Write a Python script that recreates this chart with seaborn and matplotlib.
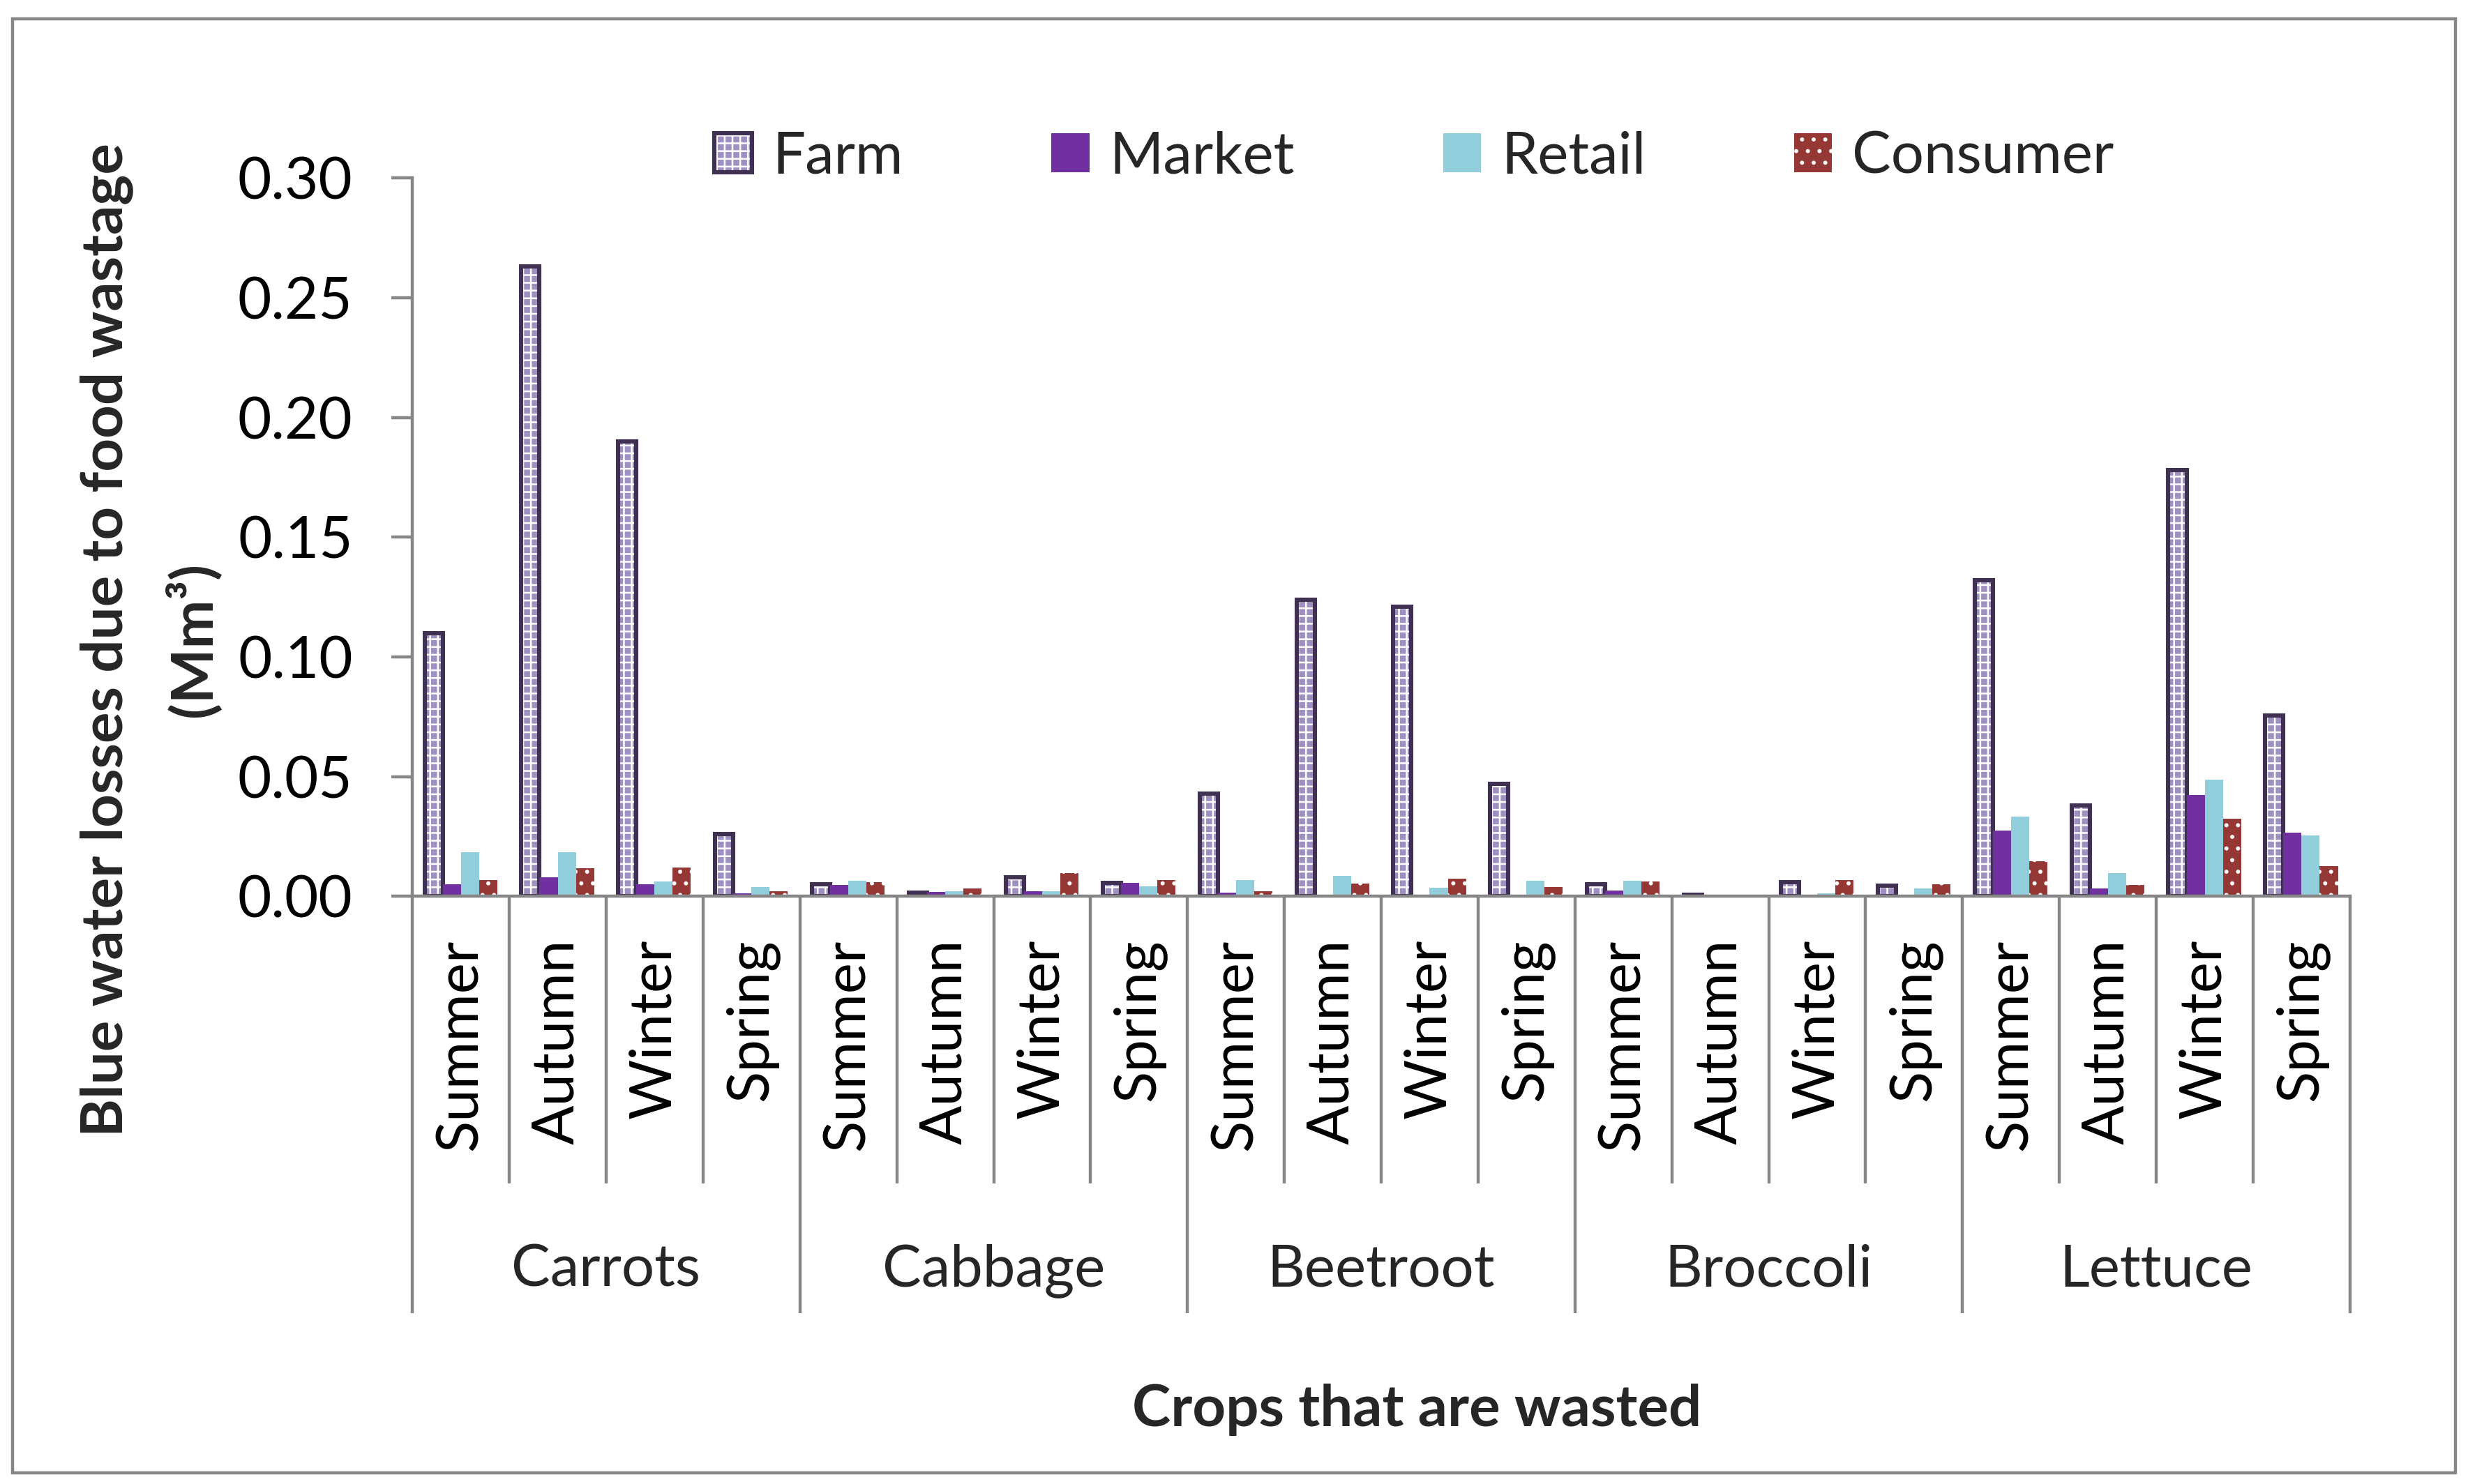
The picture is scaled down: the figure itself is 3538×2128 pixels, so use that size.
import pandas as pd
import matplotlib.pyplot as plt
import matplotlib.colors as mcolors
import matplotlib.transforms as mtransforms
from matplotlib.patches import Rectangle
from matplotlib.ticker import FormatStrFormatter, MultipleLocator
import seaborn as sns

# Data (Mm3)
crops = ['Carrots', 'Cabbage', 'Beetroot', 'Broccoli', 'Lettuce']
seasons = ['Summer', 'Autumn', 'Winter', 'Spring']
stages = ['Farm', 'Market', 'Retail', 'Consumer']

farm = [0.110, 0.263, 0.190, 0.026,
        0.005, 0.0016, 0.008, 0.0056,
        0.043, 0.124, 0.121, 0.047,
        0.005, 0.0006, 0.006, 0.0044,
        0.132, 0.038, 0.178, 0.0755]
market = [0.005, 0.008, 0.005, 0.0013,
          0.0047, 0.0018, 0.0022, 0.0056,
          0.0016, 0.0, 0.0, 0.0,
          0.0024, 0.0, 0.0008, 0.0,
          0.0276, 0.0034, 0.0424, 0.0265]
retail = [0.0184, 0.0184, 0.0063, 0.0038,
          0.0065, 0.002, 0.002, 0.0043,
          0.0067, 0.0084, 0.0035, 0.0064,
          0.0064, 0.0, 0.0012, 0.0032,
          0.0334, 0.0098, 0.0488, 0.0255]
consumer = [0.0069, 0.0116, 0.0119, 0.0022,
            0.006, 0.0034, 0.0098, 0.0067,
            0.0021, 0.0052, 0.0074, 0.0039,
            0.0061, 0.0, 0.0068, 0.005,
            0.0147, 0.0047, 0.0323, 0.0125]

# long-form table for seaborn
slots = [f'{c}|{s}' for c in crops for s in seasons]
rows = []
for stage, vals in zip(stages, [farm, market, retail, consumer]):
    for slot, v in zip(slots, vals):
        rows.append({'slot': slot, 'stage': stage, 'value': v})
df = pd.DataFrame(rows)

sns.set_style('white')
plt.rcParams['font.family'] = ['Lato', 'DejaVu Sans']
plt.rcParams['hatch.linewidth'] = 0.9

gray = '#868686'
fs = 30

fig = plt.figure(figsize=(17.69, 10.64), dpi=200)
ax = fig.add_axes([0.1671, 0.396, 0.7851, 0.484])

palette = {'Farm': '#9f90c2', 'Market': '#7030a0',
           'Retail': '#92cddc', 'Consumer': '#953735'}
sns.barplot(data=df, x='slot', y='value', hue='stage', order=slots,
            hue_order=stages, palette=palette, width=0.75, gap=0,
            saturation=1, legend=False, ax=ax)

# bar styling: hatches and outlines
for stage, cont in zip(stages, ax.containers):
    for p in cont.patches:
        if stage == 'Farm':
            p.set_hatch('+++')
            p.set_edgecolor('white')          # hatch colour
            p._edgecolor = mcolors.to_rgba('#403152')
            p.set_linewidth(2.2)
        elif stage == 'Consumer':
            p.set_hatch('..')
            p.set_edgecolor('white')
            p.set_linewidth(0)
        else:
            p.set_linewidth(0)

ax.set_ylim(0, 0.30)
ax.set_xlim(-0.5, 19.5)
ax.yaxis.set_major_locator(MultipleLocator(0.05))
ax.yaxis.set_major_formatter(FormatStrFormatter('%.2f'))
ax.set_xticks(range(len(slots)))
ax.set_xticklabels([s for c in crops for s in seasons], rotation=90)
ax.set_xlabel('')
ax.set_ylabel('')

sns.despine(ax=ax)
for side in ['left', 'bottom']:
    ax.spines[side].set_color(gray)
    ax.spines[side].set_linewidth(1.6)
ax.tick_params(axis='y', length=10.8, width=1.6, color=gray, pad=20,
               labelsize=fs, labelcolor='black', left=True)
ax.tick_params(axis='x', length=0, pad=22, labelsize=fs, labelcolor='black')

# multi-level category separators and crop labels
trans = mtransforms.blended_transform_factory(ax.transData, ax.transAxes)
for i in range(len(slots) + 1):
    bottom = -0.58 if i % 4 == 0 else -0.40
    ax.plot([i - 0.5, i - 0.5], [0, bottom], transform=trans, color=gray,
            lw=1.6, clip_on=False, solid_capstyle='butt')
for k, crop in enumerate(crops):
    ax.text(k * 4 + 1.5, -0.521, crop, transform=trans, ha='center',
            va='center', fontsize=fs)

# axis titles
fig.text(0.574, 0.05, 'Crops that are wasted', ha='center', va='center',
         fontsize=fs, fontweight='bold')
fig.text(0.043, 0.569, 'Blue water losses due to food wastage', rotation=90,
         ha='center', va='center', fontsize=fs, fontweight='bold')
fig.text(0.078, 0.569, '(Mm³)', rotation=90, ha='center', va='center',
         fontsize=fs, fontweight='bold')

# legend
handles = [cont.patches[0] for cont in ax.containers]
fig.legend(handles, stages, loc='center', bbox_to_anchor=(0.573, 0.894),
           ncol=4, frameon=False, fontsize=fs, handlelength=0.65,
           handleheight=0.65, handletextpad=0.35, columnspacing=2.55)

# outer chart border
fig.add_artist(Rectangle((0.005, 0.0074), 0.99, 0.98, transform=fig.transFigure,
                         fill=False, edgecolor=gray, lw=1.6))

fig.savefig('out.png', dpi=200)
